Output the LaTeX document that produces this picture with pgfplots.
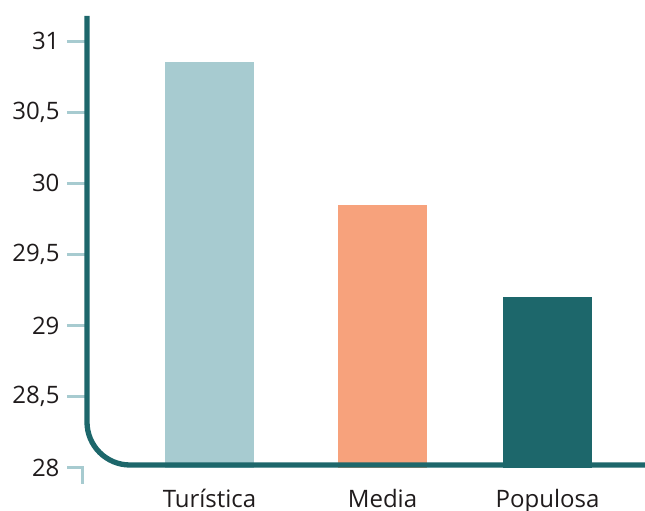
\documentclass[border=0pt]{standalone}
\usepackage{pgfplots}
\pgfplotsset{compat=1.18}
\usepackage{fontspec}
\setmainfont{Open Sans}

\definecolor{lightteal}{HTML}{A7CBD0}
\definecolor{salmon}{HTML}{F7A27C}
\definecolor{darkteal}{HTML}{1D676B}
\definecolor{labelgray}{HTML}{1F1B1C}

\begin{document}
\begin{tikzpicture}[x=1pt,y=1pt]
\useasboundingbox (0,0) rectangle (645,511);
\begin{axis}[
  at={(87pt,43pt)}, anchor=south west,
  scale only axis,
  width=558pt, height=451.8pt,
  xmin=87, xmax=645,
  ymin=28, ymax=31.175,
  axis lines*=left,
  axis line style={draw=none},
  clip=true,
  tick align=outside,
  major tick length=20pt,
  ytick={28.5,29,29.5,30,30.5,31},
  yticklabels={{28,5},29,{29,5},30,{30,5},31},
  extra y ticks={28},
  extra y tick labels={28},
  extra y tick style={y tick style={draw=none}},
  y tick style={color=lightteal, line width=3pt},
  yticklabel style={font=\fontsize{24}{25}\selectfont, text=labelgray, xshift=-4pt},
  xtick={209.5,382.5,547.5},
  xticklabels={Turística,Media,Populosa},
  x tick style={draw=none},
  xticklabel style={font=\fontsize{24}{25}\selectfont, text=labelgray, yshift=2.5pt},
  ybar, bar width=89, bar shift=0pt,
]
\addplot[fill=lightteal, draw=none] coordinates {(209.5,30.85)};
\addplot[fill=salmon, draw=none] coordinates {(382.5,29.85)};
\addplot[fill=darkteal, draw=none] coordinates {(547.5,29.2)};
\end{axis}
% bracket-shaped mark at the lowest tick
\draw[lightteal, line width=3pt, line join=miter] (67,43) -- (82.5,43) -- (82.5,27);
% main axis with a rounded corner
\draw[darkteal, line width=5.3pt, rounded corners=43pt] (87,495) -- (87,46) -- (646,46);
\end{tikzpicture}
\end{document}
